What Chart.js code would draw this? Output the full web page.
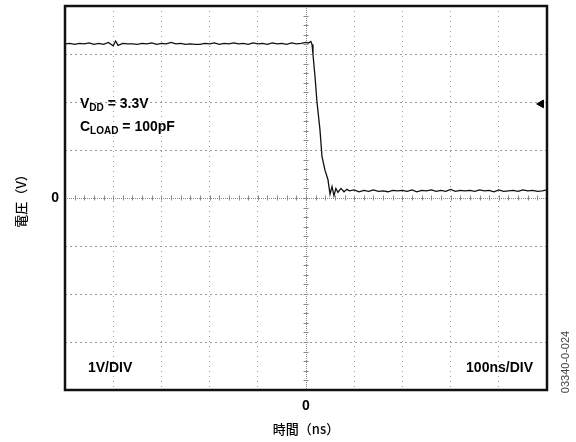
<!DOCTYPE html>
<html>
<head>
<meta charset="utf-8">
<script src="https://cdn.jsdelivr.net/npm/chart.js@4/dist/chart.umd.min.js"></script>
<style>
  html, body { margin: 0; padding: 0; background: #fff; }
</style>
</head>
<body>
<canvas id="scope" width="576" height="442"></canvas>
<script>
// waveform (time in ns, level in V)
var timeNs = [
  -500, -490, -480, -470, -460, -450, -440, -430, -420, -410,
  -400, -395, -390, -380, -370, -360, -350, -340, -330, -320,
  -310, -300, -290, -280, -270, -260, -250, -240, -230, -220,
  -210, -200, -190, -180, -170, -160, -150, -140, -130, -120,
  -110, -100, -90, -80, -70, -60, -50, -40, -30, -20,
  -10, 0, 5, 10, 12.5,
  14.5, 18.7, 22.8, 29, 33.2, 39.4, 45.6, 49.8,
  54, 58, 62, 66.4, 72.6, 78.8, 85,
  90, 100, 110, 120, 130, 140, 150, 160, 170, 180,
  190, 200, 210, 220, 230, 240, 250, 260, 270, 280,
  290, 300, 310, 320, 330, 340, 350, 360, 370, 380,
  390, 400, 410, 420, 430, 440, 450, 460, 470, 480,
  490, 500
];
var volts = [
  3.21, 3.22, 3.20, 3.22, 3.21, 3.23, 3.20, 3.22, 3.20, 3.24,
  3.17, 3.27, 3.18, 3.22, 3.21, 3.21, 3.20, 3.22, 3.21, 3.23,
  3.20, 3.22, 3.21, 3.24, 3.21, 3.22, 3.20, 3.21, 3.20, 3.20,
  3.22, 3.21, 3.23, 3.20, 3.22, 3.21, 3.23, 3.21, 3.22, 3.20,
  3.23, 3.21, 3.22, 3.20, 3.23, 3.21, 3.22, 3.20, 3.23, 3.21,
  3.22, 3.24, 3.23, 3.26, 3.20,
  2.99, 2.53, 2.00, 1.42, 0.86, 0.58, 0.38, 0.08,
  0.24, 0.05, 0.20, 0.12, 0.20, 0.13, 0.18,
  0.15, 0.17, 0.13, 0.16, 0.14, 0.17, 0.14, 0.15, 0.13, 0.16,
  0.15, 0.16, 0.14, 0.17, 0.13, 0.16, 0.15, 0.17, 0.14, 0.16,
  0.14, 0.18, 0.14, 0.16, 0.15, 0.16, 0.14, 0.17, 0.15, 0.16,
  0.13, 0.17, 0.14, 0.15, 0.16, 0.14, 0.17, 0.15, 0.16, 0.14,
  0.15, 0.17
];
// trigger level marker on the right edge
var triggerTime = [488];
var triggerVolts = [1.96];
// only the centre ticks carry a label
var xLabelAt = [0];
var yLabelAt = [0];

var boldFont = '"Liberation Sans", Arial, sans-serif';
var cjkFont = '"Noto Sans CJK JP", "Noto Sans CJK SC", sans-serif';

var scopeDeco = {
    id: 'scopeDeco',
    beforeDatasetsDraw: function (chart) {
        var ctx = chart.ctx;
        var xs = chart.scales.x;
        var ys = chart.scales.y;
        var a = chart.chartArea;
        var cx = xs.getPixelForValue(0);
        var cy = ys.getPixelForValue(0);
        ctx.save();
        ctx.strokeStyle = '#8a8a8a';
        ctx.lineWidth = 1;
        ctx.setLineDash([1, 1]);
        ctx.beginPath();
        ctx.moveTo(a.left, Math.round(cy) + 0.5);
        ctx.lineTo(a.right, Math.round(cy) + 0.5);
        ctx.moveTo(Math.round(cx) + 0.5, a.top);
        ctx.lineTo(Math.round(cx) + 0.5, a.bottom);
        ctx.stroke();
        ctx.setLineDash([]);
        ctx.beginPath();
        // minor divisions, 5 per division
        for (var t = -500; t <= 500; t += 20) {
            var px = Math.round(xs.getPixelForValue(t)) + 0.5;
            ctx.moveTo(px, cy - 2.5);
            ctx.lineTo(px, cy + 2.5);
        }
        for (var v = -4; v <= 4.001; v += 0.2) {
            var py = Math.round(ys.getPixelForValue(v)) + 0.5;
            ctx.moveTo(cx - 2.5, py);
            ctx.lineTo(cx + 2.5, py);
        }
        ctx.stroke();
        ctx.restore();
    },
    afterDraw: function (chart) {
        var ctx = chart.ctx;
        var a = chart.chartArea;
        ctx.save();
        ctx.strokeStyle = '#111';
        ctx.lineWidth = 2.5;
        ctx.strokeRect(a.left, a.top, a.right - a.left, a.bottom - a.top);

        ctx.fillStyle = '#000';
        ctx.textBaseline = 'alphabetic';
        var sub = function (x, y, main, low, rest) {
            ctx.font = 'bold 14px ' + boldFont;
            ctx.fillText(main, x, y);
            x += ctx.measureText(main).width;
            ctx.font = 'bold 10px ' + boldFont;
            ctx.fillText(low, x, y + 3);
            x += ctx.measureText(low).width;
            ctx.font = 'bold 14px ' + boldFont;
            ctx.fillText(rest, x, y);
        };
        ctx.textAlign = 'left';
        sub(a.left + 15, 108, 'V', 'DD', ' = 3.3V');
        sub(a.left + 15, 131, 'C', 'LOAD', ' = 100pF');

        ctx.font = 'bold 14px ' + boldFont;
        ctx.fillText('1V/DIV', a.left + 23, 372);
        ctx.textAlign = 'right';
        ctx.fillText('100ns/DIV', a.right - 14, 372);

        ctx.translate(566, 362);
        ctx.rotate(-Math.PI / 2);
        ctx.textAlign = 'center';
        ctx.textBaseline = 'middle';
        ctx.fillStyle = '#444';
        ctx.font = '11px ' + boldFont;
        ctx.fillText('03340-0-024', 0, 0);
        ctx.restore();
    }
};

var gridColor = function (c) {
    return c.tick && c.tick.value === 0 ? 'rgba(0,0,0,0)' : '#9a9a9a';
};

new Chart(document.getElementById('scope').getContext('2d'), {
    type: 'line',
    data: {
        datasets: [
            {
                data: timeNs.map(function (t, i) { return { x: t, y: volts[i] }; }),
                borderColor: '#111',
                borderWidth: 1.3,
                pointRadius: 0,
                tension: 0,
                fill: false
            },
            {
                data: triggerTime.map(function (t, i) { return { x: t, y: triggerVolts[i] }; }),
                showLine: false,
                pointStyle: 'triangle',
                rotation: -90,
                pointRadius: 4.5,
                backgroundColor: '#000',
                borderColor: '#000',
                borderWidth: 1
            }
        ]
    },
    options: {
        responsive: false,
        devicePixelRatio: 1,
        animation: false,
        layout: { padding: { left: 0, right: 29, top: 6, bottom: 0 } },
        plugins: {
            legend: { display: false },
            tooltip: { enabled: false }
        },
        scales: {
            x: {
                type: 'linear',
                min: -500,
                max: 500,
                afterFit: function (s) { s.height = 52; s.paddingLeft = 0; s.paddingRight = 0; },
                grid: { color: gridColor, drawTicks: false, lineWidth: 1 },
                border: { display: false, dash: [1, 4] },
                ticks: {
                    stepSize: 100,
                    autoSkip: false,
                    maxRotation: 0,
                    padding: 8,
                    color: '#000',
                    font: { family: boldFont, size: 14, weight: 'bold' },
                    callback: function (v) { return xLabelAt.indexOf(v) >= 0 ? String(v) : ''; }
                },
                title: {
                    display: true,
                    text: '時間（ns）',
                    color: '#000',
                    font: { family: cjkFont, size: 13, weight: 500 },
                    padding: { top: 0, bottom: 5 }
                }
            },
            y: {
                min: -4,
                max: 4,
                afterFit: function (s) { s.width = 65; s.paddingTop = 0; s.paddingBottom = 0; },
                grid: { color: gridColor, drawTicks: false, lineWidth: 1 },
                border: { display: false, dash: [2, 3] },
                ticks: {
                    stepSize: 1,
                    autoSkip: false,
                    padding: 6,
                    color: '#000',
                    font: { family: boldFont, size: 14, weight: 'bold' },
                    callback: function (v) { return yLabelAt.indexOf(v) >= 0 ? String(v) : ''; }
                },
                title: {
                    display: true,
                    text: '電圧（V）',
                    color: '#000',
                    font: { family: cjkFont, size: 13, weight: 500 },
                    padding: { top: 13, bottom: 0 }
                }
            }
        }
    },
    plugins: [scopeDeco]
});
</script>
</body>
</html>
